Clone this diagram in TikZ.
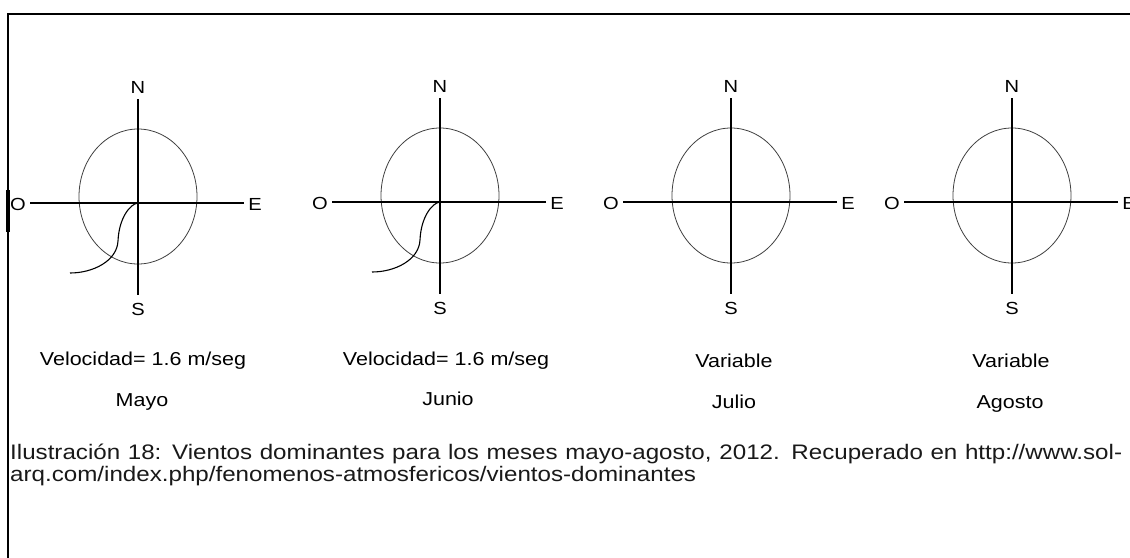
\documentclass[tikz,border=0pt]{standalone}
\usepackage{fontspec}
\setmainfont{Liberation Sans}[FakeStretch=1.15]
\usetikzlibrary{calc}
\begin{document}
\begin{tikzpicture}[x=1pt,y=-1pt,
  axis/.style={line width=1.2pt, draw=black},
  ell/.style={line width=0.8pt, draw=black!75},
  thickseg/.style={line width=2.4pt, draw=black},
  cardinal/.style={inner sep=0, font=\fontsize{17.5}{20}\selectfont, text=black},
  lbl/.style={inner sep=0, anchor=base, font=\fontsize{18.7}{22}\selectfont, text=black},
  capt/.style={inner sep=0, anchor=base west, font=\fontsize{21}{22}\selectfont, text=black!90},
  wind/.style={line width=1.1pt, draw=black}]
\useasboundingbox (0,0) rectangle (1130,557);
\fill[white] (0,0) rectangle (1130,557);
% frame
\coordinate (tl) at (8,14);
\coordinate (tr) at (1131,14);
\coordinate (bl) at (8,558);
\draw[line width=2.5pt] (tr) -- (tl) -- (bl);
\coordinate (lb1) at (8,190);
\coordinate (lb2) at (8,232);
\draw[line width=3.5pt] (lb1) -- (lb2);
% compasses
\foreach \i/\cx/\cy in {1/138/203, 2/440/202, 3/731/202, 4/1012/202} {
  \coordinate (c\i) at (\cx,\cy);
  \coordinate (top\i) at (\cx,\cy-104);
  \coordinate (bot\i) at (\cx,\cy+92);
  \coordinate (lft\i) at (\cx-108,\cy);
  \coordinate (rgt\i) at (\cx+106,\cy);
  \draw[ell] (\cx,\cy-6.5) ellipse [x radius=59, y radius=67.5];
  \draw[axis] (top\i) -- (bot\i);
  \draw[axis] (lft\i) -- (rgt\i);
  \node[cardinal] (N\i) at (\cx,\cy-116) {N};
  \node[cardinal] (S\i) at (\cx,\cy+106) {S};
  \node[cardinal] (O\i) at (\cx-120,\cy+1.5) {O};
  \node[cardinal] (E\i) at (\cx+117,\cy+1.5) {E};
}
% thicker end pieces
\foreach \i in {1,4} {
  \draw[thickseg] (top\i) -- ($(top\i)+(0,14)$);
}
\foreach \i in {2,3,4} {
  \draw[thickseg] (rgt\i) -- ($(rgt\i)+(-14,0)$);
}
% wind curves
\foreach \i in {1,2} {
  \draw[wind] (c\i) .. controls ($(c\i)+(-8,1)$) and ($(c\i)+(-19,15)$) .. ($(c\i)+(-20,38)$)
     .. controls ($(c\i)+(-21,58)$) and ($(c\i)+(-45,70)$) .. ($(c\i)+(-68,70)$);
}
% labels
\node[lbl] (v1) at (143,365) {Velocidad= 1.6 m/seg};
\node[lbl] (m1) at (142,406) {Mayo};
\node[lbl] (v2) at (446,365) {Velocidad= 1.6 m/seg};
\node[lbl] (m2) at (448,405) {Junio};
\node[lbl] (v3) at (734,367) {Variable};
\node[lbl] (m3) at (734,408) {Julio};
\node[lbl] (v4) at (1011,367) {Variable};
\node[lbl] (m4) at (1010,408) {Agosto};
% caption
\node[capt] (cap1) at (10,459) {\hbox to 1112pt{Ilustración 18: Vientos dominantes para los meses mayo-agosto, 2012. Recuperado en http://www.sol-}};
\node[capt] (cap2) at (10,481) {arq.com/index.php/fenomenos-atmosfericos/vientos-dominantes};
\end{tikzpicture}
\end{document}
